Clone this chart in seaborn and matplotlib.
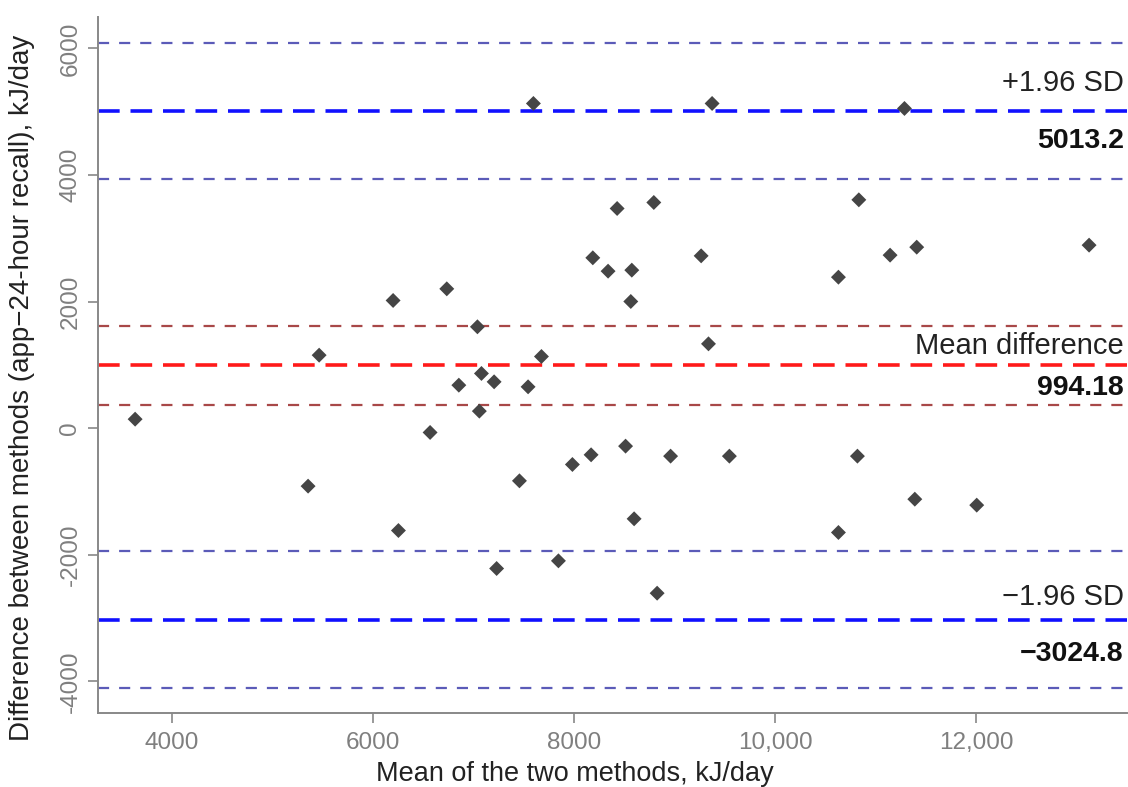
import matplotlib
matplotlib.use("Agg")
import matplotlib.pyplot as plt
import seaborn as sns
import pandas as pd

# Bland-Altman data
mean_of_methods = [3632, 5353, 5463, 6199, 6252, 6567, 6733, 6853, 7038, 7057,
                   7078, 7204, 7229, 7456, 7542, 7595, 7675, 7844, 7983, 8169,
                   8186, 8338, 8428, 8512, 8564, 8574, 8597, 8793, 8826, 8960,
                   9264, 9337, 9373, 9545, 10630, 10630, 10819, 10833, 11144, 11287,
                   11390, 11409, 12006, 13124]
difference = [142, -916, 1153, 2017, -1617, -68, 2201, 679, 1601, 269,
              864, 732, -2217, -832, 653, 5129, 1132, -2096, -574, -421,
              2691, 2480, 3470, -284, 2001, 2496, -1432, 3565, -2607, -442,
              2722, 1332, 5129, -442, 2385, -1648, -442, 3607, 2733, 5050,
              -1122, 2859, -1216, 2891]

mean_diff = 994.18
upper_loa = 5013.2
lower_loa = -3024.8
mean_ci = [370, 1615]
upper_ci = [3940, 6085]
lower_ci = [-4100, -1945]

x_ticks = [4000, 6000, 8000, 10000, 12000]
x_tick_labels = ["4000", "6000", "8000", "10,000", "12,000"]
y_ticks = [-4000, -2000, 0, 2000, 4000, 6000]

df = pd.DataFrame({"mean": mean_of_methods, "diff": difference})

sns.set_style("ticks")
plt.rcParams["font.family"] = ["Liberation Sans", "DejaVu Sans"]

fig = plt.figure(figsize=(11.28, 7.87), dpi=100)
ax = fig.add_axes([0.087, 0.094, 0.912, 0.884])

# confidence interval lines
for y in upper_ci + lower_ci:
    ax.axhline(y, color="#5b5bb8", lw=1.6, ls=(0, (5, 4.5)), zorder=1)
for y in mean_ci:
    ax.axhline(y, color="#a84848", lw=1.6, ls=(0, (5, 4.5)), zorder=1)

# limits of agreement and mean difference
ax.axhline(upper_loa, color="#1010ff", lw=2.6, ls=(0, (6, 3)), zorder=1)
ax.axhline(lower_loa, color="#1010ff", lw=2.6, ls=(0, (6, 3)), zorder=1)
ax.axhline(mean_diff, color="#ff1a1a", lw=2.6, ls=(0, (6, 3)), zorder=1)

sns.scatterplot(data=df, x="mean", y="diff", marker="D", s=58, color="#454545",
                edgecolor="none", ax=ax, zorder=3)

ax.set_xlim(3264, 13500)
ax.set_ylim(-4500, 6490)
ax.set_xticks(x_ticks)
ax.set_xticklabels(x_tick_labels)
ax.set_yticks(y_ticks)
ax.set_yticklabels([str(v) for v in y_ticks], rotation=90, va="center")

ax.tick_params(axis="both", colors="#888888", labelcolor="#7f7f7f", labelsize=17.5,
               length=7, width=1.2, direction="out")
ax.tick_params(axis="x", pad=7)
ax.tick_params(axis="y", pad=5)
for side in ["top", "right"]:
    ax.spines[side].set_visible(False)
for side in ["left", "bottom"]:
    ax.spines[side].set_color("#888888")
    ax.spines[side].set_linewidth(1.4)

ax.set_xlabel("Mean of the two methods, kJ/day", fontsize=19.5, color="#222222")
ax.set_ylabel("Difference between methods (app\u221224-hour recall), kJ/day",
              fontsize=20, color="#222222")
ax.xaxis.set_label_coords(0.4636, -0.069)
ax.yaxis.set_label_coords(-0.061, 0.467)

# line annotations on the right
tx = 13470
ax.text(tx, upper_loa + 440, "+1.96 SD", ha="right", va="center", fontsize=21, color="#222222")
ax.text(tx, upper_loa - 470, "5013.2", ha="right", va="center", fontsize=20.5,
        fontweight="bold", color="#111111")
ax.text(tx, mean_diff + 300, "Mean difference", ha="right", va="center", fontsize=21, color="#222222")
ax.text(tx, mean_diff - 360, "994.18", ha="right", va="center", fontsize=20.5,
        fontweight="bold", color="#111111")
ax.text(tx, lower_loa + 350, "\u22121.96 SD", ha="right", va="center", fontsize=21, color="#222222")
ax.text(tx, lower_loa - 550, "\u22123024.8", ha="right", va="center", fontsize=20.5,
        fontweight="bold", color="#111111")

fig.savefig("out.png", dpi=100)
